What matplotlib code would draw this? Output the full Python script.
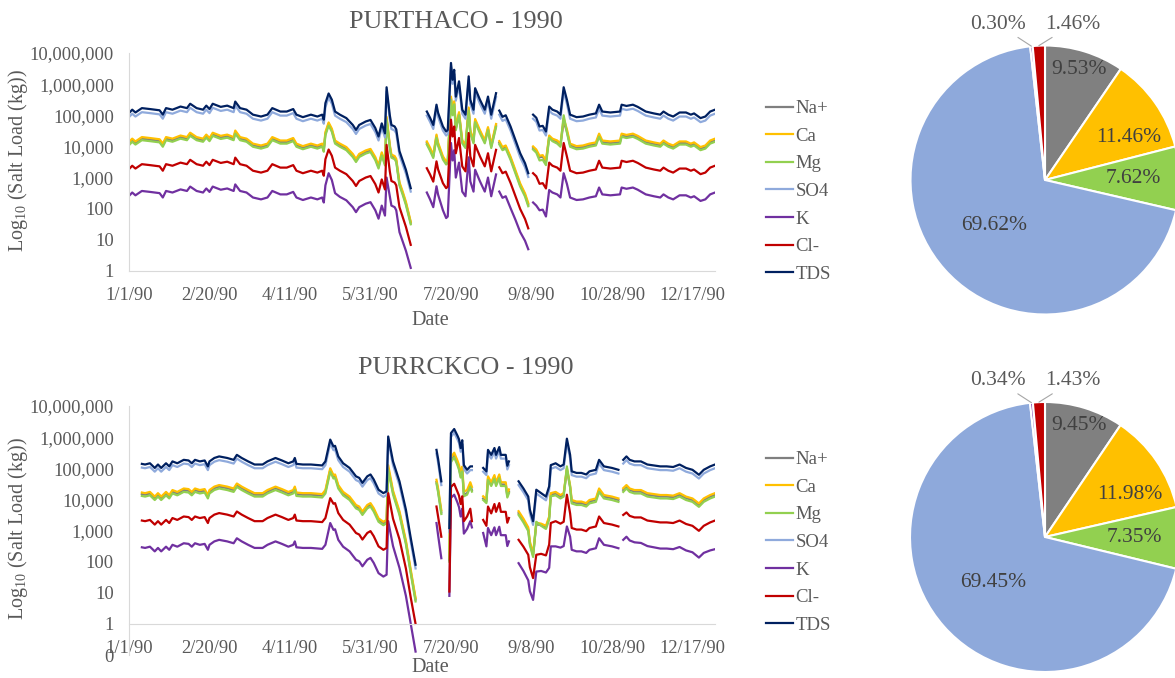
import numpy as np
import pandas as pd
import matplotlib
matplotlib.use('Agg')
import matplotlib.pyplot as plt
from matplotlib.ticker import FixedLocator, FuncFormatter, NullLocator

plt.rcParams['font.family'] = 'Liberation Serif'
plt.rcParams['mathtext.fontset'] = 'custom'
plt.rcParams['mathtext.rm'] = 'Liberation Serif'

nan = float('nan')

# series names / colours, in Excel's plotting order
SERIES = ['Na+', 'Ca', 'Mg', 'SO4', 'K', 'Cl-', 'TDS']
LINE_COLORS = ['#7F7F7F', '#FFC000', '#92D050', '#8FAADC', '#7030A0', '#C00000', '#002060']

# ---------------- PURTHACO 1990: day of year, log10 salt load (kg) ----------------
THA_DAYS = [0, 2, 4, 8, 13, 19, 21, 23, 27, 32,
            36, 38, 42, 46, 48, 50, 52, 57, 61, 65,
            66, 69, 73, 77, 82, 86, 89, 94, 98, 102,
            104, 108, 113, 117, 120, 121, 122, 124, 126, 128,
            131, 135, 139, 141, 143, 147, 150, 153, 155, 157,
            159, 160, 162, 163, 165, 166, 168, 170, 172, 175,
            180,
            185, 187, 189, 191, 192, 195, 197, 198, 200, 201,
            202, 203, 205, 207, 209, 211, 212, 214, 215, 218,
            221, 223, 225, 228,
            229,
            230, 232, 234, 237, 240, 243, 246, 248,
            249,
            251, 253, 255, 257, 259, 261, 263, 266, 268, 270,
            272, 274, 278, 282, 286, 290, 292, 294, 299, 305,
            306, 309, 313, 316, 321, 326, 330, 332, 335, 338,
            342, 346, 349, 351, 355, 358, 361, 364]

THA_TDS = [5.07, 5.18, 5.09, 5.23, 5.20, 5.16, 5.02, 5.23, 5.18, 5.28,
           5.23, 5.37, 5.23, 5.18, 5.31, 5.20, 5.37, 5.27, 5.31, 5.23,
           5.44, 5.23, 5.18, 5.02, 4.96, 5.02, 5.23, 5.12, 5.12, 5.20,
           5.02, 4.94, 5.02, 4.96, 5.02, 4.86, 5.39, 5.70, 5.50, 5.12,
           5.02, 4.91, 4.69, 4.53, 4.69, 4.80, 4.85, 4.59, 4.32, 4.74,
           4.42, 5.90, 5.00, 4.69, 4.64, 4.55, 3.85, 3.55, 3.25, 2.66,
           nan,
           5.12, 4.92, 4.69, 5.34, 5.08, 4.64, 4.48, 4.53, 6.68, 6.14,
           6.46, 5.60, 6.09, 5.18, 5.02, 6.25, 5.50, 5.18, 5.87, 5.50,
           5.18, 5.60, 5.02, 5.71,
           nan,
           5.15, 4.95, 5.00, 4.64, 4.21, 3.78, 3.46, 3.14,
           nan,
           5.02, 4.92, 4.64, 4.66, 4.48, 5.28, 5.18, 5.12, 5.02, 5.90,
           5.50, 5.02, 4.94, 4.96, 5.02, 5.06, 5.34, 5.12, 5.09, 5.12,
           5.34, 5.30, 5.34, 5.27, 5.12, 5.06, 5.02, 5.12, 5.02, 4.96,
           5.09, 5.09, 5.02, 5.06, 4.91, 4.96, 5.12, 5.18]

THA_SO4 = [4.94, 5.05, 4.96, 5.10, 5.07, 5.03, 4.89, 5.10, 5.05, 5.15,
           5.10, 5.24, 5.10, 5.05, 5.18, 5.07, 5.24, 5.14, 5.18, 5.10,
           5.31, 5.10, 5.05, 4.89, 4.83, 4.89, 5.10, 4.99, 4.99, 5.07,
           4.89, 4.81, 4.89, 4.83, 4.89, 4.73, 5.26, 5.57, 5.37, 4.99,
           4.89, 4.78, 4.56, 4.40, 4.56, 4.67, 4.72, 4.46, 4.19, 4.61,
           4.29, 5.77, 4.87, 4.56, 4.51, 4.42, 3.72, 3.43, 3.13, 2.55,
           nan,
           4.99, 4.79, 4.56, 5.21, 4.95, 4.51, 4.35, 4.40, 6.55, 6.01,
           6.33, 5.47, 5.96, 5.05, 4.89, 6.12, 5.37, 5.05, 5.74, 5.37,
           5.05, 5.47, 4.89, 5.58,
           nan,
           5.02, 4.82, 4.87, 4.51, 4.08, 3.65, 3.33, 3.02,
           nan,
           4.89, 4.79, 4.51, 4.53, 4.35, 5.15, 5.05, 4.99, 4.89, 5.77,
           5.37, 4.89, 4.81, 4.83, 4.89, 4.93, 5.21, 4.99, 4.96, 4.99,
           5.21, 5.17, 5.21, 5.14, 4.99, 4.93, 4.89, 4.99, 4.89, 4.83,
           4.96, 4.96, 4.89, 4.93, 4.78, 4.83, 4.99, 5.05]

THA_CA = [4.14, 4.25, 4.16, 4.30, 4.27, 4.23, 4.09, 4.30, 4.25, 4.35,
          4.30, 4.44, 4.30, 4.25, 4.38, 4.27, 4.44, 4.34, 4.38, 4.30,
          4.51, 4.30, 4.25, 4.09, 4.03, 4.09, 4.30, 4.19, 4.19, 4.27,
          4.09, 4.01, 4.09, 4.03, 4.09, 3.93, 4.46, 4.77, 4.57, 4.19,
          4.09, 3.98, 3.76, 3.60, 3.76, 3.87, 3.92, 3.66, 3.39, 3.81,
          3.49, 4.95, 4.05, 3.74, 3.69, 3.60, 2.85, 2.55, 2.22, 1.58,
          nan,
          4.16, 3.96, 3.73, 4.38, 4.12, 3.68, 3.52, 3.57, 5.60, 5.10,
          5.45, 4.62, 5.10, 4.20, 4.05, 5.25, 4.52, 4.20, 4.88, 4.52,
          4.20, 4.62, 4.05, 4.72,
          nan,
          4.17, 3.98, 4.03, 3.67, 3.24, 2.81, 2.49, 2.18,
          nan,
          4.00, 3.90, 3.70, 3.72, 3.55, 4.35, 4.25, 4.19, 4.09, 4.90,
          4.55, 4.09, 4.01, 4.03, 4.09, 4.13, 4.41, 4.19, 4.16, 4.19,
          4.41, 4.37, 4.41, 4.34, 4.19, 4.13, 4.09, 4.19, 4.09, 4.03,
          4.16, 4.16, 4.09, 4.13, 3.98, 4.03, 4.19, 4.25]

THA_NA = [4.09, 4.20, 4.11, 4.25, 4.22, 4.18, 4.04, 4.25, 4.20, 4.30,
          4.25, 4.39, 4.25, 4.20, 4.33, 4.22, 4.39, 4.29, 4.33, 4.25,
          4.46, 4.25, 4.20, 4.04, 3.98, 4.04, 4.25, 4.14, 4.14, 4.22,
          4.04, 3.96, 4.04, 3.98, 4.04, 3.88, 4.41, 4.72, 4.52, 4.14,
          4.04, 3.93, 3.71, 3.55, 3.71, 3.82, 3.87, 3.61, 3.34, 3.76,
          3.44, 4.90, 4.00, 3.69, 3.64, 3.55, 2.80, 2.50, 2.17, 1.55,
          nan,
          4.11, 3.91, 3.68, 4.33, 4.07, 3.63, 3.47, 3.52, 5.55, 5.05,
          5.40, 4.57, 5.05, 4.15, 4.00, 5.20, 4.47, 4.15, 4.83, 4.47,
          4.15, 4.57, 4.00, 4.67,
          nan,
          4.12, 3.93, 3.98, 3.62, 3.19, 2.76, 2.44, 2.13,
          nan,
          3.95, 3.85, 3.65, 3.67, 3.50, 4.30, 4.20, 4.14, 4.04, 4.80,
          4.48, 4.04, 3.96, 3.98, 4.04, 4.08, 4.36, 4.14, 4.11, 4.14,
          4.36, 4.32, 4.36, 4.29, 4.14, 4.08, 4.04, 4.14, 4.04, 3.98,
          4.11, 4.11, 4.04, 4.08, 3.93, 3.98, 4.14, 4.20]

THA_MG = [4.04, 4.15, 4.06, 4.20, 4.17, 4.13, 3.99, 4.20, 4.15, 4.25,
          4.20, 4.34, 4.20, 4.15, 4.28, 4.17, 4.34, 4.24, 4.28, 4.20,
          4.41, 4.20, 4.15, 3.99, 3.93, 3.99, 4.20, 4.09, 4.09, 4.17,
          3.99, 3.91, 3.99, 3.93, 3.99, 3.83, 4.36, 4.67, 4.47, 4.09,
          3.99, 3.88, 3.66, 3.50, 3.66, 3.77, 3.82, 3.56, 3.29, 3.71,
          3.39, 4.85, 3.95, 3.64, 3.59, 3.50, 2.75, 2.45, 2.12, 1.50,
          nan,
          4.06, 3.86, 3.63, 4.28, 4.02, 3.58, 3.42, 3.47, 5.50, 5.00,
          5.35, 4.52, 5.00, 4.10, 3.95, 5.15, 4.42, 4.10, 4.78, 4.42,
          4.10, 4.52, 3.95, 4.62,
          nan,
          4.07, 3.88, 3.93, 3.57, 3.14, 2.71, 2.39, 2.08,
          nan,
          3.90, 3.80, 3.55, 3.57, 3.40, 4.28, 4.17, 4.09, 3.99, 5.00,
          4.45, 3.99, 3.91, 3.93, 3.99, 4.03, 4.31, 4.09, 4.06, 4.09,
          4.31, 4.27, 4.31, 4.24, 4.09, 4.03, 3.99, 4.09, 3.99, 3.93,
          4.06, 4.06, 3.99, 4.03, 3.88, 3.93, 4.09, 4.15]

THA_CL = [3.27, 3.38, 3.29, 3.43, 3.40, 3.36, 3.22, 3.43, 3.38, 3.48,
          3.43, 3.57, 3.43, 3.38, 3.51, 3.40, 3.57, 3.47, 3.51, 3.43,
          3.64, 3.43, 3.38, 3.22, 3.16, 3.22, 3.43, 3.32, 3.32, 3.40,
          3.22, 3.14, 3.22, 3.16, 3.22, 3.06, 3.59, 3.90, 3.70, 3.32,
          3.22, 3.11, 2.89, 2.73, 2.89, 3.00, 3.05, 2.79, 2.52, 2.94,
          2.62, 4.05, 3.20, 2.89, 2.84, 2.75, 2.05, 1.73, 1.42, 0.84,
          nan,
          3.30, 3.10, 2.87, 3.52, 3.26, 2.82, 2.66, 2.71, 4.86, 4.32,
          4.64, 3.78, 4.27, 3.36, 3.20, 4.43, 3.68, 3.36, 4.05, 3.68,
          3.36, 3.78, 3.20, 3.89,
          nan,
          3.33, 3.14, 3.19, 2.83, 2.41, 1.99, 1.67, 1.37,
          nan,
          3.14, 3.04, 2.80, 2.82, 2.65, 3.48, 3.38, 3.32, 3.22, 4.11,
          3.68, 3.22, 3.14, 3.16, 3.22, 3.26, 3.54, 3.32, 3.29, 3.32,
          3.54, 3.50, 3.54, 3.47, 3.32, 3.26, 3.22, 3.32, 3.22, 3.16,
          3.29, 3.29, 3.22, 3.26, 3.11, 3.16, 3.32, 3.38]

THA_K = [2.41, 2.52, 2.43, 2.57, 2.54, 2.50, 2.36, 2.57, 2.52, 2.62,
         2.57, 2.71, 2.57, 2.52, 2.65, 2.54, 2.71, 2.61, 2.65, 2.57,
         2.78, 2.57, 2.52, 2.36, 2.30, 2.36, 2.57, 2.46, 2.46, 2.54,
         2.36, 2.28, 2.36, 2.30, 2.36, 2.20, 2.75, 3.14, 2.92, 2.50,
         2.38, 2.27, 2.05, 1.89, 2.05, 2.16, 2.21, 1.95, 1.68, 2.10,
         1.78, 3.00, 2.40, 2.10, 2.05, 1.95, 1.25, 0.95, 0.65, 0.10,
         nan,
         2.52, 2.30, 2.05, 2.72, 2.45, 1.95, 1.70, 1.75, 4.11, 3.55,
         3.88, 3.00, 3.48, 2.55, 2.40, 3.65, 2.88, 2.55, 3.25, 2.88,
         2.55, 3.00, 2.40, 3.10,
         nan,
         2.55, 2.35, 2.40, 2.02, 1.65, 1.25, 0.97, 0.70,
         nan,
         2.20, 2.10, 1.95, 1.97, 1.75, 2.60, 2.52, 2.46, 2.36, 3.14,
         2.80, 2.36, 2.28, 2.30, 2.36, 2.40, 2.68, 2.46, 2.43, 2.46,
         2.68, 2.64, 2.68, 2.61, 2.46, 2.40, 2.36, 2.46, 2.36, 2.30,
         2.43, 2.43, 2.36, 2.40, 2.25, 2.30, 2.46, 2.52]

# ---------------- PURRCKCO 1990 ----------------
RCK_DAYS = [8, 10, 13, 16, 18, 20, 23, 25, 27, 30,
            34, 37, 39, 41, 44, 47, 49, 50, 53, 56,
            61, 65, 67, 70, 74, 78, 83, 86, 91, 95,
            99, 102, 103, 104, 108, 113, 120, 122, 125, 127,
            128, 130, 133, 137, 141, 143, 145, 148, 150, 152,
            155, 158, 160, 161, 164, 168, 172, 175, 178,
            185,
            191, 192, 194,
            196,
            199, 200, 202, 204, 205, 206, 207, 208, 210, 212, 213,
            216,
            220, 222, 223, 225, 227, 228, 230, 231, 234, 235, 236,
            239,
            242, 245, 248, 249, 251, 253, 256, 259, 261, 262,
            265, 268, 270, 272, 274, 275, 278, 281, 284, 286,
            290, 292, 295, 300, 304,
            305,
            307, 309, 311, 314, 318, 322, 326, 330, 334, 338,
            342, 346, 350, 354, 357, 361, 364]

RCK_TDS = [5.14, 5.12, 5.16, 5.01, 5.12, 5.01, 5.16, 5.06, 5.22, 5.16,
           5.27, 5.25, 5.16, 5.27, 5.22, 5.25, 5.06, 5.22, 5.33, 5.38,
           5.33, 5.27, 5.43, 5.33, 5.22, 5.12, 5.12, 5.22, 5.33, 5.25,
           5.16, 5.22, 5.33, 5.14, 5.12, 5.12, 5.09, 5.22, 5.92, 5.70,
           5.72, 5.38, 5.16, 5.01, 4.74, 4.69, 4.53, 4.74, 4.80, 4.64,
           4.31, 4.20, 4.26, 6.02, 5.22, 4.58, 3.67, 2.76, 1.90,
           nan,
           5.59, 5.30, 4.58,
           nan,
           3.08, 6.13, 6.26, 6.05, 5.93, 5.65, 5.90, 5.10, 4.95, 5.06, 5.06,
           nan,
           5.01, 4.90, 5.59, 5.43, 5.65, 5.43, 5.68, 5.43, 5.43, 5.08, 5.22,
           nan,
           4.58, 4.35, 4.09, 3.67, 3.30, 4.31, 4.20, 4.09, 4.42, 5.10,
           5.16, 5.06, 5.12, 5.95, 5.43, 4.90, 4.85, 4.85, 4.80, 4.90,
           4.95, 5.27, 5.06, 5.01, 4.95,
           nan,
           5.27, 5.38, 5.27, 5.22, 5.22, 5.12, 5.09, 5.06, 5.06, 5.04,
           5.12, 5.01, 4.95, 4.79, 4.95, 5.06, 5.12]

RCK_SO4 = [5.02, 5.00, 5.04, 4.89, 5.00, 4.89, 5.04, 4.94, 5.10, 5.04,
           5.15, 5.13, 5.04, 5.15, 5.10, 5.13, 4.94, 5.10, 5.21, 5.26,
           5.21, 5.15, 5.31, 5.21, 5.10, 5.00, 5.00, 5.10, 5.21, 5.13,
           5.04, 5.10, 5.21, 5.02, 5.00, 5.00, 4.97, 5.10, 5.80, 5.58,
           5.60, 5.26, 5.04, 4.89, 4.62, 4.57, 4.41, 4.62, 4.68, 4.52,
           4.19, 4.08, 4.14, 5.90, 5.10, 4.46, 3.55, 2.64, 1.78,
           nan,
           5.47, 5.18, 4.46,
           nan,
           2.96, 6.01, 6.14, 5.93, 5.81, 5.53, 5.78, 4.98, 4.83, 4.94, 4.94,
           nan,
           4.89, 4.78, 5.47, 5.31, 5.53, 5.31, 5.56, 5.31, 5.31, 4.96, 5.10,
           nan,
           4.46, 4.23, 3.97, 3.55, 3.18, 4.19, 4.08, 3.97, 4.30, 4.98,
           5.04, 4.94, 5.00, 5.83, 5.31, 4.78, 4.73, 4.73, 4.68, 4.78,
           4.83, 5.15, 4.94, 4.89, 4.83,
           nan,
           5.15, 5.26, 5.15, 5.10, 5.10, 5.00, 4.97, 4.94, 4.94, 4.92,
           5.00, 4.89, 4.83, 4.67, 4.83, 4.94, 5.00]

RCK_CA = [4.22, 4.20, 4.24, 4.09, 4.20, 4.09, 4.24, 4.14, 4.30, 4.24,
          4.35, 4.33, 4.24, 4.35, 4.30, 4.33, 4.14, 4.30, 4.41, 4.46,
          4.41, 4.35, 4.51, 4.41, 4.30, 4.20, 4.20, 4.30, 4.41, 4.33,
          4.24, 4.30, 4.41, 4.22, 4.20, 4.20, 4.17, 4.30, 5.00, 4.78,
          4.80, 4.46, 4.24, 4.09, 3.82, 3.77, 3.61, 3.82, 3.88, 3.72,
          3.39, 3.28, 3.34, 5.10, 4.28, 3.62, 2.68, 1.74, 0.83,
          nan,
          4.63, 4.35, 3.65,
          nan,
          2.10, 5.35, 5.50, 5.25, 5.10, 4.85, 5.05, 4.25, 4.30, 4.55, 4.40,
          nan,
          4.10, 4.00, 4.74, 4.55, 4.78, 4.55, 4.80, 4.55, 4.55, 4.18, 4.32,
          nan,
          3.62, 3.38, 3.10, 2.65, 2.25, 3.25, 3.22, 3.15, 3.45, 4.20,
          4.24, 4.14, 4.20, 5.00, 4.45, 3.98, 3.93, 3.93, 3.88, 3.98,
          4.03, 4.35, 4.14, 4.09, 4.03,
          nan,
          4.36, 4.46, 4.35, 4.30, 4.30, 4.20, 4.17, 4.14, 4.14, 4.12,
          4.20, 4.09, 4.03, 3.87, 4.03, 4.14, 4.20]

RCK_NA = [4.17, 4.15, 4.19, 4.04, 4.15, 4.04, 4.19, 4.09, 4.25, 4.19,
          4.30, 4.28, 4.19, 4.30, 4.25, 4.28, 4.09, 4.25, 4.36, 4.41,
          4.36, 4.30, 4.46, 4.36, 4.25, 4.15, 4.15, 4.25, 4.36, 4.28,
          4.19, 4.25, 4.36, 4.17, 4.15, 4.15, 4.12, 4.25, 4.95, 4.73,
          4.75, 4.41, 4.19, 4.04, 3.77, 3.72, 3.56, 3.77, 3.83, 3.67,
          3.34, 3.23, 3.29, 5.00, 4.22, 3.56, 2.62, 1.68, 0.78,
          nan,
          4.56, 4.28, 3.58,
          nan,
          2.05, 5.25, 5.40, 5.15, 5.00, 4.75, 4.95, 4.15, 4.20, 4.45, 4.30,
          nan,
          4.03, 3.93, 4.67, 4.48, 4.71, 4.48, 4.73, 4.48, 4.48, 4.11, 4.25,
          nan,
          3.56, 3.32, 3.04, 2.59, 2.20, 3.20, 3.17, 3.10, 3.40, 4.15,
          4.19, 4.09, 4.15, 4.95, 4.40, 3.93, 3.88, 3.88, 3.83, 3.93,
          3.98, 4.30, 4.09, 4.04, 3.98,
          nan,
          4.30, 4.41, 4.30, 4.25, 4.25, 4.15, 4.12, 4.09, 4.09, 4.07,
          4.15, 4.04, 3.98, 3.82, 3.98, 4.09, 4.15]

RCK_MG = [4.11, 4.09, 4.13, 3.98, 4.09, 3.98, 4.13, 4.03, 4.19, 4.13,
          4.24, 4.22, 4.13, 4.24, 4.19, 4.22, 4.03, 4.19, 4.30, 4.35,
          4.30, 4.24, 4.40, 4.30, 4.19, 4.09, 4.09, 4.19, 4.30, 4.22,
          4.13, 4.19, 4.30, 4.11, 4.09, 4.09, 4.06, 4.19, 4.89, 4.67,
          4.69, 4.35, 4.13, 3.98, 3.71, 3.66, 3.50, 3.71, 3.77, 3.61,
          3.28, 3.17, 3.23, 4.95, 4.16, 3.50, 2.56, 1.62, 0.72,
          nan,
          4.51, 4.23, 3.53,
          nan,
          2.00, 5.20, 5.35, 5.10, 4.95, 4.70, 4.90, 4.10, 4.15, 4.40, 4.25,
          nan,
          3.98, 3.88, 4.62, 4.43, 4.66, 4.43, 4.68, 4.43, 4.43, 4.06, 4.20,
          nan,
          3.50, 3.26, 2.98, 2.53, 2.15, 3.28, 3.15, 3.05, 3.35, 4.10,
          4.13, 4.03, 4.09, 5.06, 4.38, 3.87, 3.82, 3.82, 3.77, 3.87,
          3.92, 4.24, 4.03, 3.98, 3.92,
          nan,
          4.24, 4.35, 4.24, 4.19, 4.19, 4.09, 4.06, 4.03, 4.03, 4.01,
          4.09, 3.98, 3.92, 3.76, 3.92, 4.03, 4.09]

RCK_CL = [3.32, 3.30, 3.34, 3.19, 3.30, 3.19, 3.34, 3.24, 3.40, 3.34,
          3.45, 3.43, 3.34, 3.45, 3.40, 3.43, 3.24, 3.40, 3.51, 3.56,
          3.51, 3.45, 3.61, 3.51, 3.40, 3.30, 3.30, 3.40, 3.51, 3.43,
          3.34, 3.40, 3.51, 3.32, 3.30, 3.30, 3.27, 3.40, 4.04, 3.86,
          3.88, 3.56, 3.34, 3.19, 2.92, 2.87, 2.71, 2.92, 2.98, 2.82,
          2.49, 2.38, 2.44, 4.20, 3.38, 2.72, 1.78, 0.85, 0.00,
          nan,
          3.77, 3.45, 2.80,
          nan,
          1.04, 4.40, 4.50, 4.25, 4.12, 3.85, 4.10, 3.30, 3.45, 3.70, 3.30,
          nan,
          3.34, 3.15, 3.77, 3.55, 3.85, 3.60, 3.88, 3.60, 3.60, 3.25, 3.40,
          nan,
          2.70, 2.48, 2.22, 1.82, 1.47, 2.22, 2.25, 2.20, 2.55, 3.24,
          3.30, 3.22, 3.28, 4.15, 3.55, 3.08, 3.03, 3.03, 2.98, 3.08,
          3.13, 3.45, 3.24, 3.19, 3.13,
          nan,
          3.50, 3.58, 3.47, 3.42, 3.42, 3.32, 3.29, 3.26, 3.26, 3.24,
          3.32, 3.21, 3.15, 2.99, 3.15, 3.26, 3.32]

RCK_K = [2.46, 2.44, 2.48, 2.33, 2.44, 2.33, 2.48, 2.38, 2.54, 2.48,
         2.59, 2.57, 2.48, 2.59, 2.54, 2.57, 2.38, 2.54, 2.65, 2.70,
         2.65, 2.59, 2.75, 2.65, 2.54, 2.44, 2.44, 2.54, 2.65, 2.57,
         2.48, 2.54, 2.65, 2.46, 2.44, 2.44, 2.41, 2.54, 3.24, 3.02,
         3.04, 2.70, 2.48, 2.33, 2.06, 2.01, 1.85, 2.06, 2.12, 1.96,
         1.63, 1.52, 1.58, 3.30, 2.50, 1.80, 0.90, 0.00, -0.89,
         nan,
         3.24, 2.85, 2.11,
         nan,
         0.90, 4.05, 4.15, 3.90, 3.75, 3.45, 3.70, 2.90, 3.05, 3.30, 3.10,
         nan,
         2.92, 2.49, 3.08, 2.85, 3.10, 2.85, 3.12, 2.85, 2.85, 2.50, 2.65,
         nan,
         1.95, 1.70, 1.40, 1.05, 0.77, 1.68, 1.70, 1.65, 1.80, 2.49,
         2.49, 2.45, 2.50, 3.13, 2.80, 2.38, 2.33, 2.33, 2.28, 2.38,
         2.43, 2.75, 2.54, 2.49, 2.43,
         nan,
         2.70, 2.80, 2.68, 2.62, 2.60, 2.50, 2.46, 2.42, 2.42, 2.40,
         2.47, 2.36, 2.30, 2.13, 2.28, 2.36, 2.40]

# ---------------- pie charts: share of total load (%) ----------------
PIE_LABELS = ['Na+', 'Ca', 'Mg', 'SO4', 'K', 'Cl-']
PIE_COLORS = ['#808080', '#FFC000', '#92D050', '#8EA9DB', '#7030A0', '#C00000']
THA_PIE = [9.53, 11.46, 7.62, 69.62, 0.30, 1.46]
RCK_PIE = [9.45, 11.98, 7.35, 69.45, 0.34, 1.43]

GREY = '#595959'
START = np.datetime64('1990-01-01')


def line_chart(ax, days, series_logs, ymin):
    dates = START + np.array(days).astype('timedelta64[D]')
    for name, vals, col in zip(SERIES, series_logs, LINE_COLORS):
        ax.plot(dates, 10 ** np.array(vals), color=col, lw=1.6,
                solid_joinstyle='round', label=name)
    ax.set_yscale('log')
    ax.set_ylim(ymin, 1e7)
    ax.set_xlim(START, START + np.timedelta64(364, 'D'))
    ax.yaxis.set_major_locator(FixedLocator(10.0 ** np.arange(np.log10(ymin), 8)))
    ax.yaxis.set_minor_locator(NullLocator())
    ax.yaxis.set_major_formatter(FuncFormatter(lambda v, p: f'{v:,.0f}'))
    ticks = START + np.arange(0, 351, 50).astype('timedelta64[D]')
    ax.set_xticks(ticks)
    ax.set_xticklabels([f'{t.month}/{t.day}/{t:%y}' for t in pd.to_datetime(ticks)])
    ax.xaxis.set_minor_locator(NullLocator())
    ax.spines['bottom'].set_position(('data', 1))
    for s in ['top', 'right']:
        ax.spines[s].set_visible(False)
    for s in ['left', 'bottom']:
        ax.spines[s].set_color('#D9D9D9')
    ax.tick_params(axis='both', length=0, labelsize=13.3, colors=GREY)
    ax.tick_params(axis='y', pad=11)
    ax.tick_params(axis='x', pad=11.5)
    ax.set_xlabel('Date', fontsize=14.5, color=GREY, va='center')


def pie_chart(ax, vals):
    wedges, _ = ax.pie(vals, colors=PIE_COLORS, startangle=90, counterclock=False,
                       wedgeprops=dict(edgecolor='white', linewidth=1.5))
    ax.set_xlim(-1, 1)
    ax.set_ylim(-1, 1)
    ax.set_aspect('equal')
    # inside labels: distance from centre and small angle nudge
    radius = [0.86, 0.70, 0.66, 0.51]
    nudge = [0, -8, 0, 0]
    for i in range(4):
        w = wedges[i]
        ang = np.deg2rad((w.theta1 + w.theta2) / 2 + nudge[i])
        ax.text(radius[i] * np.cos(ang), radius[i] * np.sin(ang), f'{vals[i]:.2f}%',
                ha='center', va='center', fontsize=15.5, color='#404040')
    # small slices labelled outside with leader lines
    outside = {4: (-0.35, 1.157), 5: (0.209, 1.157)}
    for i, pos in outside.items():
        w = wedges[i]
        ang = np.deg2rad((w.theta1 + w.theta2) / 2)
        ax.annotate(f'{vals[i]:.2f}%', xy=(np.cos(ang), np.sin(ang)), xytext=pos,
                    ha='center', va='center', fontsize=15.5, color=GREY,
                    arrowprops=dict(arrowstyle='-', color='#A6A6A6', lw=0.8,
                                    shrinkA=1, shrinkB=0))


fig = plt.figure(figsize=(11.75, 6.78), dpi=100)

W, H = 1175, 678
ax1 = fig.add_axes([129 / W, 1 - 271 / H, 586 / W, 218 / H])
ax2 = fig.add_axes([129 / W, 1 - 655 / H, 586 / W, 249 / H])

line_chart(ax1, THA_DAYS, [THA_NA, THA_CA, THA_MG, THA_SO4, THA_K, THA_CL, THA_TDS], 1)
line_chart(ax2, RCK_DAYS, [RCK_NA, RCK_CA, RCK_MG, RCK_SO4, RCK_K, RCK_CL, RCK_TDS], 0.1)
ax1.xaxis.set_label_coords(0.515, -0.225)
ax2.xaxis.set_label_coords(0.515, -0.052)

fig.text(456 / W, 1 - 22 / H, 'PURTHACO - 1990', ha='center', va='center',
         fontsize=18.8, color=GREY)
fig.text(466 / W, 1 - 368 / H, 'PURRCKCO - 1990', ha='center', va='center',
         fontsize=18.8, color=GREY)
ylab = r'Log$_{\mathrm{10}}$ (Salt Load (kg))'
fig.text(18 / W, 1 - 161 / H, ylab, rotation=90, ha='center', va='center',
         fontsize=14.5, color=GREY)
fig.text(18 / W, 1 - 529 / H, ylab, rotation=90, ha='center', va='center',
         fontsize=14.5, color=GREY)

for ax, top in [(ax1, 100), (ax2, 451)]:
    leg = ax.legend(loc='upper left', bbox_to_anchor=(766 / W, 1 - top / H),
                    bbox_transform=fig.transFigure, frameon=False, fontsize=13.5,
                    handlelength=1.45, handletextpad=0.12, labelspacing=0.56,
                    borderpad=0, borderaxespad=0)
    for t in leg.get_texts():
        t.set_color(GREY)

pie1 = fig.add_axes([(1045 - 134.5) / W, 1 - (180 + 134.5) / H, 269 / W, 269 / H])
pie2 = fig.add_axes([(1045 - 135) / W, 1 - (537 + 135) / H, 270 / W, 270 / H])
pie_chart(pie1, THA_PIE)
pie_chart(pie2, RCK_PIE)

fig.savefig('out.png', dpi=100)
